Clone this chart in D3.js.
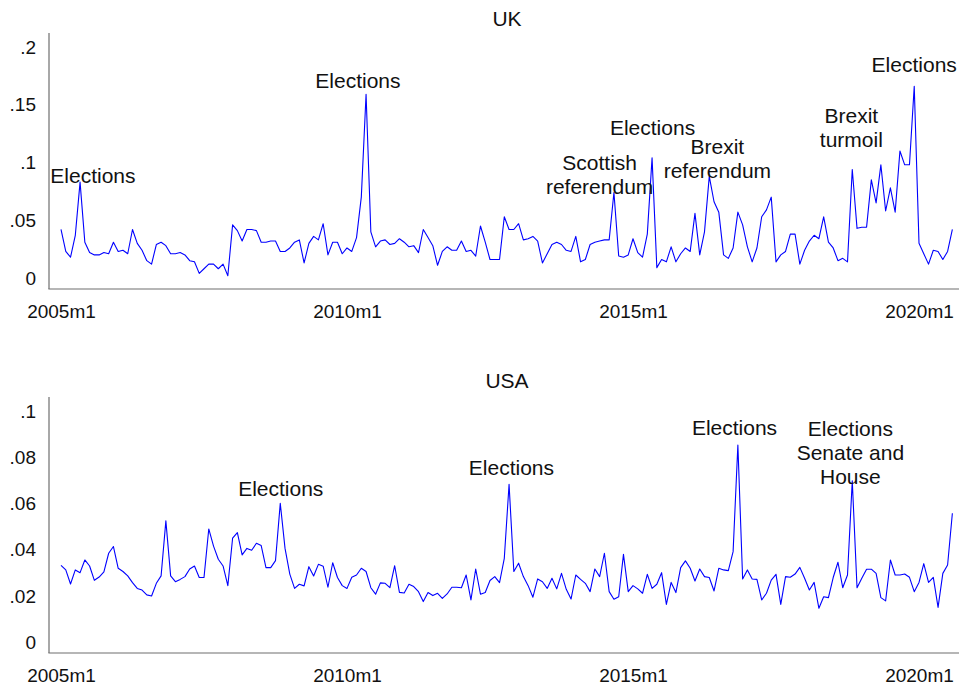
<!DOCTYPE html>
<html>
<head>
<meta charset="utf-8">
<script src="https://cdn.jsdelivr.net/npm/d3@7"></script>
<style>
  body { margin: 0; background: #fff; }
  svg { display: block; font-family: "Liberation Sans", Arial, Helvetica, sans-serif; }
</style>
</head>
<body>
<svg id="chart" width="959" height="687"></svg>
<script>
// monthly series, 2005m1 .. 2020m8 (month index 0 = 2005m1)
const ukValues = [
  .042,.023,.018,.037,.083,.031,.022,.020,.020,.022,.021,.031,.023,.024,.021,.042,.030,.024,.015,.012,
  .029,.031,.028,.021,.021,.022,.020,.015,.014,.004,.008,.012,.012,.008,.012,.002,.046,.041,.032,.042,
  .042,.041,.031,.031,.032,.032,.023,.023,.026,.031,.033,.013,.030,.036,.033,.047,.020,.031,.031,.021,
  .026,.023,.035,.070,.159,.040,.027,.032,.033,.029,.030,.034,.031,.027,.028,.022,.042,.035,.028,.011,
  .023,.027,.024,.024,.032,.023,.024,.019,.045,.031,.016,.016,.016,.053,.042,.042,.047,.033,.034,.036,
  .032,.013,.021,.029,.031,.029,.024,.023,.036,.014,.016,.029,.031,.032,.033,.033,.074,.019,.018,.020,
  .034,.022,.018,.038,.104,.009,.016,.014,.027,.014,.021,.026,.023,.056,.020,.040,.088,.066,.057,.020,
  .017,.026,.057,.046,.027,.014,.026,.053,.059,.070,.014,.020,.023,.038,.038,.012,.024,.032,.037,.034,
  .053,.031,.026,.015,.017,.014,.094,.043,.044,.044,.085,.065,.098,.058,.078,.057,.110,.098,.098,.166,
  .030,.021,.012,.024,.023,.016,.023,.042
];

const usaValues = [
  .0333,.0313,.0252,.0313,.0301,.0356,.0330,.0268,.0282,.0304,.0385,.0414,.0320,.0306,.0287,.0258,.0233,.0226,.0205,.0200,
  .0255,.0287,.0525,.0287,.0262,.0272,.0284,.0317,.0330,.0280,.0280,.0490,.0416,.0359,.0330,.0245,.0450,.0474,.0378,.0406,
  .0398,.0428,.0418,.0323,.0323,.0353,.0601,.0406,.0295,.0233,.0251,.0244,.0327,.0287,.0337,.0329,.0238,.0344,.0280,.0245,
  .0233,.0281,.0291,.0320,.0306,.0236,.0208,.0257,.0255,.0236,.0331,.0216,.0213,.0251,.0241,.0219,.0176,.0215,.0202,.0212,
  .0190,.0209,.0238,.0238,.0236,.0291,.0183,.0317,.0208,.0215,.0267,.0284,.0258,.0363,.0683,.0306,.0342,.0284,.0245,.0195,
  .0274,.0262,.0233,.0277,.0231,.0298,.0229,.0187,.0291,.0272,.0255,.0219,.0317,.0284,.0385,.0219,.0186,.0197,.0380,.0219,
  .0245,.0231,.0212,.0294,.0233,.0251,.0301,.0164,.0259,.0215,.0323,.0352,.0320,.0265,.0317,.0284,.0280,.0222,.0320,.0313,
  .0310,.0392,.0853,.0274,.0313,.0274,.0272,.0183,.0212,.0269,.0294,.0164,.0284,.0281,.0295,.0324,.0277,.0226,.0259,.0147,
  .0197,.0193,.0280,.0346,.0236,.0291,.0698,.0236,.0277,.0316,.0316,.0298,.0193,.0179,.0356,.0291,.0291,.0295,.0281,.0219,
  .0259,.0340,.0259,.0281,.0151,.0298,.0334,.0558
];

// x axis ticks (month index) and their labels
const xTickMonths = [0, 60, 120, 180];
const xTickLabels = ['2005m1', '2010m1', '2015m1', '2020m1'];

const ukTicks = [0, .05, .1, .15, .2];
const usaTicks = [0, .02, .04, .06, .08, .1];

// event labels: month index of centre, value at baseline of the last line
const ukNotes = [
  { lines: ['Elections'], m: 6.7, v: .082 },
  { lines: ['Elections'], m: 62.3, v: .1645 },
  { lines: ['Scottish', 'referendum'], m: 113, v: .073 },
  { lines: ['Elections'], m: 124.1, v: .124 },
  { lines: ['Brexit', 'referendum'], m: 137.7, v: .0866 },
  { lines: ['Brexit', 'turmoil'], m: 165.8, v: .1134 },
  { lines: ['Elections'], m: 179, v: .178 }
];

const usaNotes = [
  { lines: ['Elections'], m: 46.1, v: .0633 },
  { lines: ['Elections'], m: 94.5, v: .0723 },
  { lines: ['Elections'], m: 141.3, v: .0896 },
  { lines: ['Elections', 'Senate and', 'House'], m: 165.6, v: .0684 }
];

const svg = d3.select('#chart');

const x = d3.scaleLinear().domain([0, 180]).range([61, 919]);

const fmt = d => d === 0 ? '0' : d3.format('.2~f')(d).replace(/^0/, '');

function drawPanel(title, values, ticks, notes, box) {
  const y = d3.scaleLinear().domain([0, ticks[ticks.length - 1]]).range([box.y0, box.y1]);
  const g = svg.append('g');

  g.append('text')
    .attr('x', 507)
    .attr('y', box.titleY)
    .attr('text-anchor', 'middle')
    .attr('font-size', 21)
    .attr('fill', '#111')
    .text(title);

  // axis lines
  g.append('line')
    .attr('x1', 49).attr('x2', 49)
    .attr('y1', box.top).attr('y2', box.bottom)
    .attr('stroke', '#6e6e6e').attr('stroke-width', 1.2);
  g.append('line')
    .attr('x1', 48.4).attr('x2', 959)
    .attr('y1', box.bottom).attr('y2', box.bottom)
    .attr('stroke', '#6e6e6e').attr('stroke-width', 1.2);

  const yAxis = g.append('g')
    .attr('transform', 'translate(49,0)')
    .call(d3.axisLeft(y).tickValues(ticks).tickFormat(fmt).tickSize(0).tickPadding(13));
  yAxis.select('.domain').remove();
  yAxis.selectAll('text')
    .attr('font-size', 19)
    .attr('font-family', '"Liberation Sans", Arial, sans-serif')
    .attr('fill', '#111');

  const xAxis = g.append('g')
    .attr('transform', `translate(0,${box.bottom})`)
    .call(d3.axisBottom(x).tickValues(xTickMonths)
      .tickFormat((d, i) => xTickLabels[i]).tickSize(0));
  xAxis.select('.domain').remove();
  xAxis.selectAll('text')
    .attr('y', 29).attr('dy', 0)
    .attr('font-size', 19)
    .attr('font-family', '"Liberation Sans", Arial, sans-serif')
    .attr('fill', '#111');

  const line = d3.line()
    .x((d, i) => x(i))
    .y(d => y(d));

  g.append('path')
    .datum(values)
    .attr('fill', 'none')
    .attr('stroke', '#0000ff')
    .attr('stroke-width', 1.1)
    .attr('stroke-linejoin', 'round')
    .attr('d', line);

  const note = g.selectAll('.note')
    .data(notes)
    .enter().append('text')
    .attr('class', 'note')
    .attr('text-anchor', 'middle')
    .attr('font-size', 21)
    .attr('fill', '#111')
    .attr('x', d => x(d.m))
    .attr('y', d => y(d.v));

  note.selectAll('tspan')
    .data(d => d.lines.map((t, i) => ({ t, i, n: d.lines.length, m: d.m })))
    .enter().append('tspan')
    .attr('x', d => x(d.m))
    .attr('dy', d => d.i === 0 ? -(d.n - 1) * 24 : 24)
    .text(d => d.t);
}

drawPanel('UK', ukValues, ukTicks, ukNotes,
  { y0: 278, y1: 47, top: 33, bottom: 289, titleY: 26 });
drawPanel('USA', usaValues, usaTicks, usaNotes,
  { y0: 642.3, y1: 411, top: 397, bottom: 653, titleY: 388 });
</script>
</body>
</html>
